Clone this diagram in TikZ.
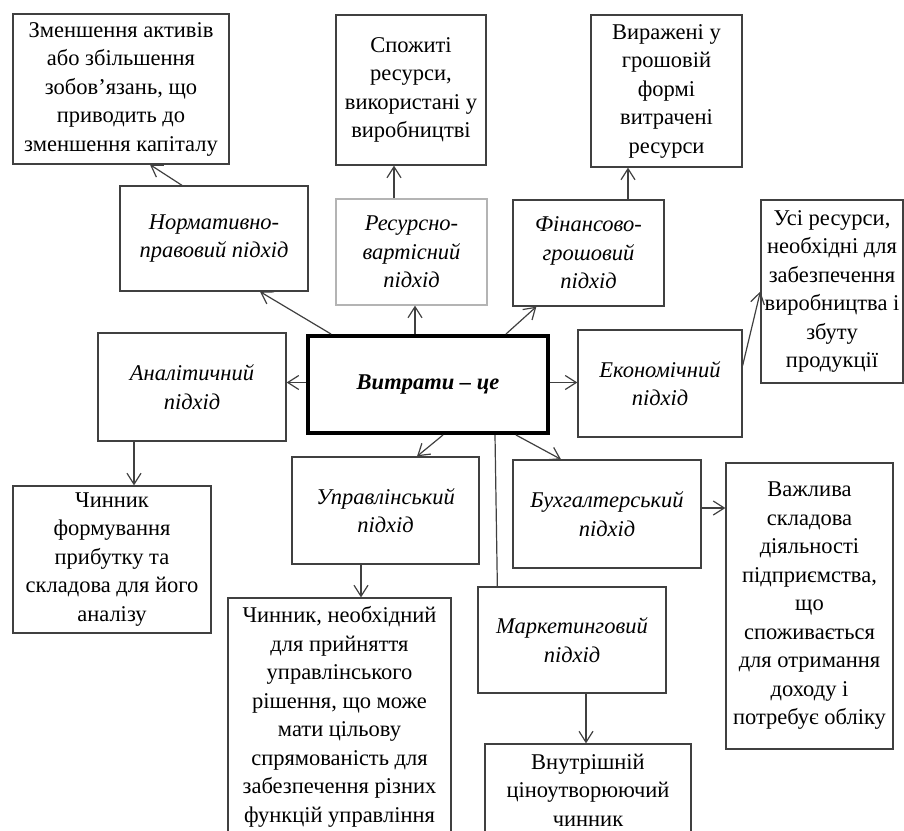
\documentclass[tikz,border=0pt]{standalone}
\usepackage{fontspec}
\setmainfont{Liberation Serif}
\usetikzlibrary{arrows.meta,calc}
\definecolor{edge}{HTML}{404040}
\definecolor{pale}{HTML}{B4B4B4}
\tikzset{
  box/.style={draw=edge, line width=1.3pt, align=center, inner sep=2pt,
    font=\fontsize{22.5}{28.5}\selectfont},
  appr/.style={box, font=\fontsize{22.5}{28.5}\selectfont\itshape},
  arr/.style={draw=edge, line width=1.2pt, -{Straight Barb[length=11pt,width=14pt]}},
  link/.style={draw=edge, line width=1.2pt},
}
\begin{document}
\begin{tikzpicture}[x=1pt,y=-1pt]
  \useasboundingbox (0,0) rectangle (904,830);
  \node[box, minimum width=216pt, minimum height=150pt] (decr) at (121,89)
    {Зменшення активів\\або збільшення\\зобов’язань, що\\приводить до\\зменшення капіталу};
  \node[box, minimum width=150pt, minimum height=150pt] (spent) at (411,90)
    {Спожиті\\ресурси,\\використані у\\виробництві};
  \node[box, minimum width=151pt, minimum height=152pt] (money) at (666.5,91)
    {Виражені у\\грошовій\\формі\\витрачені\\ресурси};
  \node[appr, minimum width=188pt, minimum height=105pt] (norm) at (214,238.5)
    {Нормативно-\\правовий підхід};
  \node[appr, draw=pale, minimum width=151pt, minimum height=106pt] (res) at (411.5,252)
    {Ресурсно-\\вартісний\\підхід};
  \node[appr, minimum width=151pt, minimum height=106pt] (fin) at (588.5,253)
    {Фінансово-\\грошовий\\підхід};
  \node[box, minimum width=142pt, minimum height=183pt] (all) at (832,291.5)
    {Усі ресурси,\\необхідні для\\забезпечення\\виробництва і\\збуту\\продукції};
  \node[box, draw=black, line width=4pt, minimum width=240pt, minimum height=97pt,
    font=\fontsize{22.5}{28.5}\selectfont\bfseries\itshape] (cost) at (428,384.5)
    {Витрати -- це};
  \node[appr, minimum width=164pt, minimum height=107pt] (econ) at (660,383.5)
    {Економічний\\підхід};
  \node[appr, minimum width=188pt, minimum height=108pt] (anal) at (192,387)
    {Аналітичний\\підхід};
  \node[box, minimum width=198pt, minimum height=147pt] (profit) at (112,559.5)
    {Чинник\\формування\\прибутку та\\складова для його\\аналізу};
  \node[appr, minimum width=187pt, minimum height=107pt] (mgmt) at (385.5,510.5)
    {Управлінський\\підхід};
  \node[appr, minimum width=188pt, minimum height=108pt] (acct) at (607,514)
    {Бухгалтерський\\підхід};
  \node[box, minimum width=167pt, minimum height=286pt] (part) at (809.5,606)
    {Важлива\\складова\\діяльності\\підприємства,\\що\\споживається\\для отримання\\доходу і\\потребує обліку};
  \node[appr, minimum width=188pt, minimum height=106pt] (mark) at (572,640)
    {Маркетинговий\\підхід};
  \node[box, minimum width=206pt, minimum height=92pt] (price) at (588,790)
    {Внутрішній\\ціноутворюючий\\чинник};
  \node[box, minimum width=223pt, minimum height=238pt] (decis) at (339.5,717)
    {Чинник, необхідний\\для прийняття\\управлінського\\рішення, що може\\мати цільову\\спрямованість для\\забезпечення різних\\функцій управління};
  \begin{scope}
    \draw[arr] ($(cost.north west)+(25,0)$) -- ($(norm.south)+(46,0)$);
    \draw[arr] ($(norm.north)+(-32,0)$) -- ($(decr.south)+(29,0)$);
    \draw[arr] ($(cost.north)+(-13,0)$) coordinate (p1) -- (p1 |- res.south);
    \draw[arr] ($(res.north)+(-17.5,0)$) coordinate (p2) -- (p2 |- spent.south);
    \draw[arr] ($(cost.north east)+(-44,0)$) -- ($(fin.south west)+(24,0)$);
    \draw[arr] ($(fin.north)+(39.5,0)$) coordinate (p3) -- (p3 |- money.south);
    \draw[arr] ($(cost.east)+(0,-2)$) coordinate (p4) -- (p4 -| econ.west);
    \draw[arr] ($(econ.east)+(0,-18)$) -- (all.west);
    \draw[arr] ($(cost.west)+(0,-2)$) coordinate (p5) -- (p5 -| anal.east);
    \draw[arr] ($(anal.south)+(-58,0)$) coordinate (p6) -- (p6 |- profit.north);
    \draw[arr] ($(cost.south)+(15,0)$) -- ($(mgmt.north)+(31.5,0)$);
    \draw[arr] ($(mgmt.south)+(-24.5,0)$) coordinate (p7) -- (p7 |- decis.north);
    \draw[arr] ($(cost.south east)+(-34,0)$) -- ($(acct.north)+(-46,0)$);
    \draw[link] ($(cost.south)+(67,0)$) -- ($(mark.north west)+(20,0)$);
    \draw[arr] ($(acct.east)+(0,-6)$) coordinate (p8) -- (p8 -| part.west);
    \draw[arr] ($(mark.south)+(14,0)$) coordinate (p9) -- (p9 |- price.north);
  \end{scope}
\end{tikzpicture}
\end{document}
